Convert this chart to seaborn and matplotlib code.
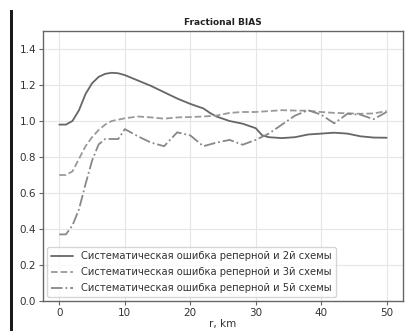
import matplotlib
matplotlib.use("Agg")
import matplotlib.pyplot as plt
import seaborn as sns
import pandas as pd
import numpy as np

title = "Fractional BIAS"
xlabel = "r, km"
labels = [
    "Систематическая ошибка реперной и 2й схемы",
    "Систематическая ошибка реперной и 3й схемы",
    "Систематическая ошибка реперной и 5й схемы",
]

r2 = [0, 1, 2, 3, 4, 5, 6, 7, 8, 9, 10, 12, 14, 16, 18, 20, 22, 23, 24, 26, 28, 30, 31, 32, 34, 36, 38, 40, 42, 44, 46, 48, 50]
v2 = [0.98, 0.98, 1.0, 1.06, 1.15, 1.21, 1.245, 1.262, 1.268, 1.265, 1.255, 1.225, 1.195, 1.16, 1.125, 1.095, 1.07, 1.045, 1.025, 1.0, 0.985, 0.96, 0.92, 0.91, 0.905, 0.91, 0.925, 0.93, 0.935, 0.93, 0.915, 0.908, 0.907]

r3 = [0, 1, 2, 3, 4, 5, 6, 7, 8, 10, 12, 14, 16, 18, 20, 22, 24, 26, 28, 30, 32, 34, 36, 38, 40, 42, 44, 46, 48, 50]
v3 = [0.70, 0.70, 0.72, 0.79, 0.86, 0.91, 0.95, 0.98, 1.0, 1.015, 1.025, 1.02, 1.013, 1.02, 1.022, 1.025, 1.03, 1.045, 1.05, 1.05, 1.055, 1.06, 1.058, 1.057, 1.05, 1.045, 1.043, 1.04, 1.042, 1.055]

r5 = [0, 1, 2, 3, 4, 5, 6, 7, 9, 10, 12, 14, 16, 18, 20, 22, 24, 26, 28, 30, 32, 34, 36, 38, 40, 42, 44, 46, 48, 50]
v5 = [0.37, 0.37, 0.42, 0.51, 0.65, 0.78, 0.87, 0.90, 0.90, 0.955, 0.915, 0.88, 0.86, 0.937, 0.92, 0.86, 0.88, 0.895, 0.868, 0.895, 0.93, 0.98, 1.03, 1.06, 1.035, 0.987, 1.04, 1.035, 1.01, 1.05]

sns.set_style("whitegrid", {
    "axes.edgecolor": "#666666",
    "grid.color": "#e6e6e6",
    "xtick.bottom": True,
    "ytick.left": True,
})
plt.rcParams["font.family"] = ["DejaVu Sans"]

fig = plt.figure(figsize=(4.06, 3.31), dpi=100)
ax = fig.add_axes([43 / 406, 1 - 301 / 331, (403 - 43) / 406, (301 - 31) / 331])

df2 = pd.DataFrame({"r": r2, "v": v2})
df3 = pd.DataFrame({"r": r3, "v": v3})
df5 = pd.DataFrame({"r": r5, "v": v5})

sns.lineplot(data=df2, x="r", y="v", ax=ax, color="#666666", linestyle="-", lw=1.3, label=labels[0])
sns.lineplot(data=df3, x="r", y="v", ax=ax, color="#9a9a9a", linestyle="--", lw=1.3, label=labels[1])
sns.lineplot(data=df5, x="r", y="v", ax=ax, color="#888888", linestyle="-.", lw=1.3, label=labels[2])

ax.set_xlim(-2.5, 52.5)
ax.set_ylim(0, 1.5)
ax.set_yticks([0.0, 0.2, 0.4, 0.6, 0.8, 1.0, 1.2, 1.4])
ax.set_xticks([0, 10, 20, 30, 40, 50])
ax.tick_params(labelsize=7.5, colors="#333333", length=3, width=0.8, pad=2)
ax.tick_params(axis="both", color="#666666")
ax.set_xlabel(xlabel, fontsize=7.5, color="#333333", labelpad=1)
ax.set_ylabel("")
ax.set_title(title, fontsize=6.5, fontweight="bold", color="#222222", pad=4)
for s in ax.spines.values():
    s.set_linewidth(1.0)

leg = ax.legend(loc="lower left", fontsize=7.2, frameon=True, borderaxespad=0.4,
                handlelength=2.2, labelspacing=0.6)
leg.get_frame().set_edgecolor("#cccccc")
for t in leg.get_texts():
    t.set_color("#333333")

fig.add_artist(plt.Rectangle((10 / 406, 0), 3.5 / 406, 1 - 10 / 331,
                             transform=fig.transFigure, color="#1a1a1a", lw=0))

fig.savefig("out.png", dpi=100)
